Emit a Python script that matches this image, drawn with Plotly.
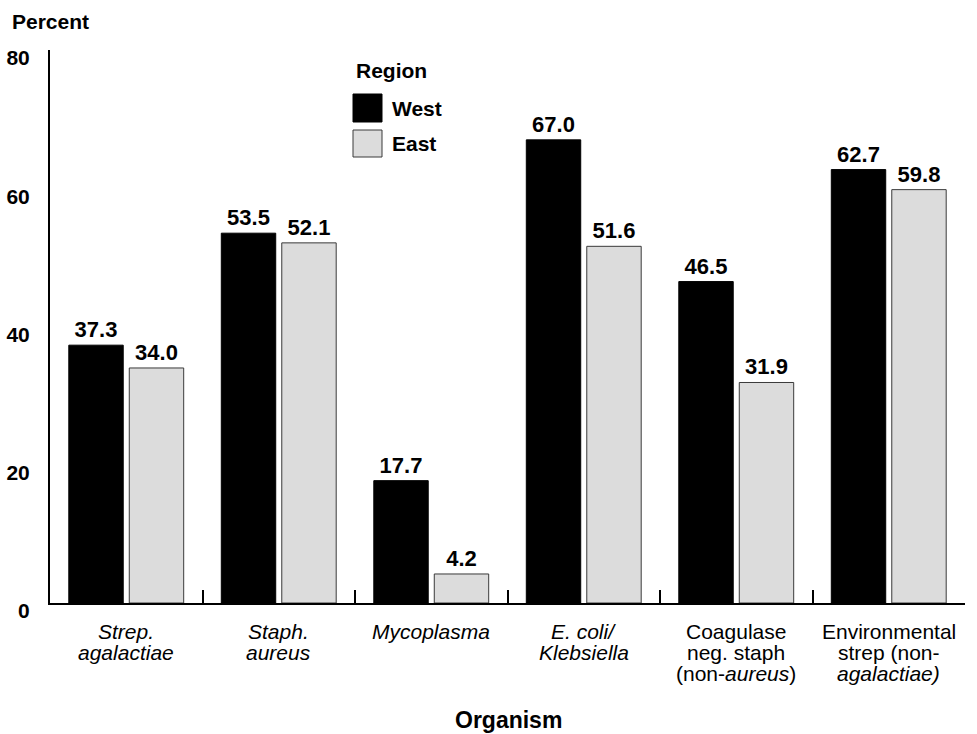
import plotly.graph_objects as go

categories = ["Strep. agalactiae", "Staph. aureus", "Mycoplasma", "E. coli/Klebsiella",
              "Coagulase neg. staph (non-aureus)", "Environmental strep (non-agalactiae)"]
category_lines = [
    ["<i>Strep.</i>", "<i>agalactiae</i>"],
    ["<i>Staph.</i>", "<i>aureus</i>"],
    ["<i>Mycoplasma</i>"],
    ["<i>E. coli/</i>", "<i>Klebsiella</i>"],
    ["Coagulase", "neg. staph", "(non-<i>aureus</i>)"],
    ["Environmental", "strep (non-", "<i>agalactiae)</i>"],
]
west = [37.3, 53.5, 17.7, 67.0, 46.5, 62.7]
east = [34.0, 52.1, 4.2, 51.6, 31.9, 59.8]
y_ticks = [0, 20, 40, 60, 80]

FONT = "Liberation Sans, Arial, sans-serif"
EAST_FILL = "#dcdcdc"
EAST_LINE = "#3a3a3a"

fig = go.Figure()
fig.add_trace(go.Bar(
    x=categories, y=west, name="West",
    marker=dict(color="black", line=dict(color="black", width=1)),
    text=[f"<b>{v:.1f}</b>" for v in west], textposition="outside",
    textfont=dict(family=FONT, size=22, color="black"),
    constraintext="none", cliponaxis=False, showlegend=False,
))
fig.add_trace(go.Bar(
    x=categories, y=east, name="East",
    marker=dict(color=EAST_FILL, line=dict(color=EAST_LINE, width=1)),
    text=[f"<b>{v:.1f}</b>" for v in east], textposition="outside",
    textfont=dict(family=FONT, size=22, color="black"),
    constraintext="none", cliponaxis=False, showlegend=False,
))

annotations = []
# category labels, line by line for tight spacing
line_centers = [28, 49, 70]
for cat, lines in zip(categories, category_lines):
    for i, ln in enumerate(lines):
        annotations.append(dict(
            x=cat, xref="x", y=0, yref="paper", text=ln, showarrow=False,
            xanchor="center", yanchor="middle", yshift=-line_centers[i],
            font=dict(family=FONT, size=21, color="black"),
        ))
# axis titles
annotations.append(dict(x=0, xref="paper", y=1, yref="paper", text="<b>Percent</b>",
                        showarrow=False, xanchor="left", yanchor="middle",
                        xshift=-40, yshift=29, font=dict(family=FONT, size=21, color="black")))
annotations.append(dict(x=0.5, xref="paper", y=0, yref="paper", text="<b>Organism</b>",
                        showarrow=False, xanchor="center", yanchor="middle",
                        xshift=1, yshift=-117, font=dict(family=FONT, size=23, color="black")))
# legend
annotations.append(dict(x=0, xref="paper", y=1, yref="paper", text="<b>Region</b>",
                        showarrow=False, xanchor="left", yanchor="middle",
                        xshift=304, yshift=-20, font=dict(family=FONT, size=21, color="black")))
annotations.append(dict(x=0, xref="paper", y=1, yref="paper", text="<b>West</b>",
                        showarrow=False, xanchor="left", yanchor="middle",
                        xshift=340, yshift=-58, font=dict(family=FONT, size=21, color="black")))
annotations.append(dict(x=0, xref="paper", y=1, yref="paper", text="<b>East</b>",
                        showarrow=False, xanchor="left", yanchor="middle",
                        xshift=340, yshift=-93, font=dict(family=FONT, size=21, color="black")))

shapes = [
    dict(type="rect", xref="paper", yref="paper", xsizemode="pixel", ysizemode="pixel",
         xanchor=0, yanchor=1, x0=303, x1=332, y0=-72, y1=-44,
         fillcolor="black", line=dict(color="black", width=1)),
    dict(type="rect", xref="paper", yref="paper", xsizemode="pixel", ysizemode="pixel",
         xanchor=0, yanchor=1, x0=303, x1=332, y0=-107, y1=-80,
         fillcolor=EAST_FILL, line=dict(color=EAST_LINE, width=1)),
]

fig.update_layout(
    width=977, height=734,
    margin=dict(l=50, r=12, t=50, b=131, autoexpand=False),
    paper_bgcolor="white", plot_bgcolor="white",
    barmode="group", bargap=0.207, bargroupgap=0.1,
    font=dict(family=FONT, color="black"),
    annotations=annotations, shapes=shapes,
    xaxis=dict(
        type="category", range=[-0.5, 5.5], showticklabels=False, automargin=False,
        showline=True, linecolor="black", linewidth=2,
        ticks="inside", tickson="boundaries", ticklen=13, tickwidth=2, tickcolor="black",
        showgrid=False, zeroline=False, fixedrange=True,
    ),
    yaxis=dict(
        range=[0, 80], tickvals=y_ticks, ticktext=[f"<b>{t}</b>" for t in y_ticks],
        showline=True, linecolor="black", linewidth=2, ticks="", automargin=False,
        ticklabelstandoff=14, ticklabelshift=8,
        tickfont=dict(family=FONT, size=21, color="black"),
        showgrid=False, zeroline=False, fixedrange=True,
    ),
)

fig.write_html("out.html", config={"displayModeBar": False},
               post_script="document.body.style.margin='0';")
